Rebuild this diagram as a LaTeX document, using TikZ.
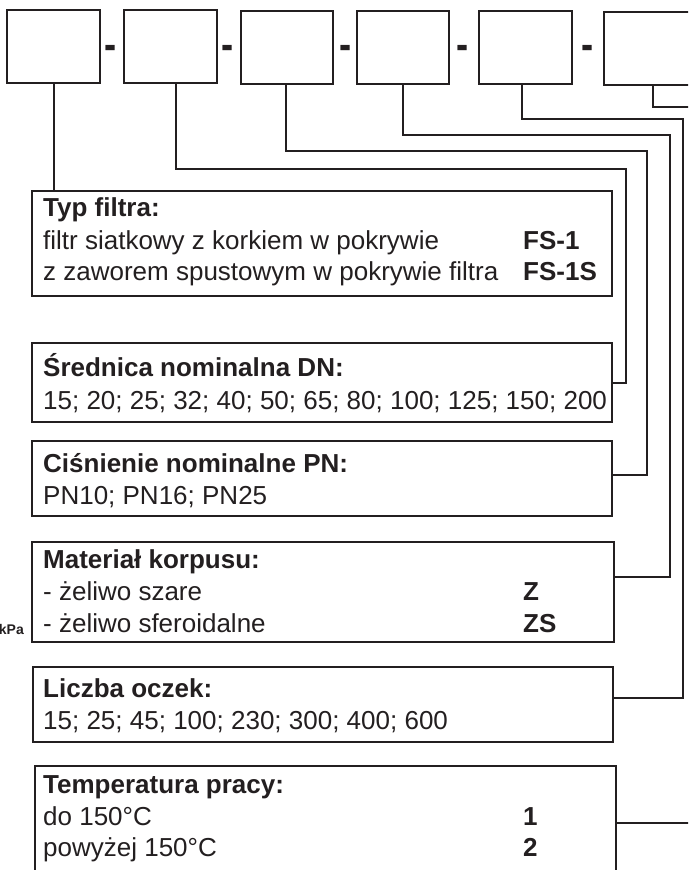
\documentclass[tikz,border=0pt]{standalone}
\usepackage{fontspec}
\setmainfont{Liberation Sans}
\definecolor{ink}{RGB}{35,31,32}
\begin{document}
\begin{tikzpicture}[x=1pt,y=-1pt,
  ln/.style={line width=2pt, draw=ink},
  codebox/.style={ln, rectangle, inner sep=0pt, minimum width=93pt, minimum height=73pt},
  infobox/.style={ln, rectangle, inner sep=0pt},
  txt/.style={anchor=base west, inner sep=0pt, text=ink, font=\fontsize{26}{32}\selectfont},
  hd/.style={txt, font=\fontsize{26}{32}\selectfont\bfseries},
  val/.style={txt, font=\fontsize{26}{32}\selectfont\bfseries},
  sep/.style={anchor=base, inner sep=0pt, text=ink, font=\fontsize{26}{32}\selectfont\bfseries},
  note/.style={anchor=base east, inner sep=0pt, text=ink, font=\fontsize{14}{16}\selectfont\bfseries}
]
\useasboundingbox (0,0) rectangle (688,870);
\clip (0,0) rectangle (688,870);
\fill[white] (0,0) rectangle (688,870);

% top code boxes
\node[codebox] (k1) at (53.5,46.5) {};
\node[codebox] (k2) at (170.5,46.5) {};
\node[codebox, minimum width=92pt] (k3) at (287,47) {};
\node[codebox, minimum width=92pt] (k4) at (403,47.5) {};
\node[codebox] (k5) at (525.5,47.5) {};
\node[codebox, minimum width=96pt] (k6) at (652,48.5) {};

% separators
\node[sep] (d1) at (111,59) {\scalebox{1.4}[1.7]{-}};
\node[sep] (d2) at (228,59) {\scalebox{1.4}[1.7]{-}};
\node[sep] (d3) at (346,59) {\scalebox{1.4}[1.7]{-}};
\node[sep] (d4) at (463,59) {\scalebox{1.4}[1.7]{-}};
\node[sep] (d5) at (588,59) {\scalebox{1.4}[1.7]{-}};

% information boxes
\node[infobox, minimum width=580pt, minimum height=105pt] (t1) at (322,243.5) {};
\node[infobox, minimum width=580pt, minimum height=79pt] (t2) at (322,382.5) {};
\node[infobox, minimum width=580pt, minimum height=75pt] (t3) at (322,478.5) {};
\node[infobox, minimum width=582pt, minimum height=100pt] (t4) at (323,592) {};
\node[infobox, minimum width=580pt, minimum height=75pt] (t5) at (323,704.5) {};
\node[infobox, minimum width=581pt, minimum height=134pt] (t6) at (325.5,833) {};

% texts
\node[hd] (h1) at (43,216) {Typ filtra:};
\node[txt] (a1) at (43,249) {filtr siatkowy z korkiem w pokrywie};
\node[val] (v1) at (523,249) {FS-1};
\node[txt] (b1) at (43,280) {z zaworem spustowym w pokrywie filtra};
\node[val] (w1) at (523,280) {FS-1S};

\node[hd] (h2) at (43,376) {Średnica nominalna DN:};
\node[txt] (a2) at (43,409) {15; 20; 25; 32; 40; 50; 65; 80; 100; 125; 150; 200};

\node[hd] (h3) at (43,472) {Ciśnienie nominalne PN:};
\node[txt] (a3) at (43,504) {PN10; PN16; PN25};

\node[hd] (h4) at (43,568) {Materiał korpusu:};
\node[txt] (a4) at (43,600) {- żeliwo szare};
\node[val] (v4) at (523,600) {Z};
\node[txt] (b4) at (43,632) {- żeliwo sferoidalne};
\node[val] (w4) at (523,632) {ZS};

\node[hd] (h5) at (43,697) {Liczba oczek:};
\node[txt] (a5) at (43,729) {15; 25; 45; 100; 230; 300; 400; 600};

\node[hd] (h6) at (43,793) {Temperatura pracy:};
\node[txt] (a6) at (43,825) {do 150°C};
\node[val] (v6) at (523,825) {1};
\node[txt] (b6) at (43,856) {powyżej 150°C};
\node[val] (w6) at (523,856) {2};

\node[note] (kpa) at (24,634) {kPa};

% connector coordinates
\coordinate (r2) at (626,169);
\coordinate (e2) at (626,383);
\coordinate (r3) at (647,151);
\coordinate (e3) at (647,475);
\coordinate (r4) at (670,135);
\coordinate (e4) at (670,577);
\coordinate (r5) at (683,119);
\coordinate (e5) at (683,698);
\coordinate (r6) at (700,107);
\coordinate (e6) at (700,823);

% connectors
\draw[ln] (k1.south) -- (k1.south |- t1.north);
\draw[ln] ([xshift=5.5pt]k2.south) |- (r2) -- (e2) -- (e2 -| t2.east);
\draw[ln] ([xshift=-1pt]k3.south) |- (r3) -- (e3) -- (e3 -| t3.east);
\draw[ln] (k4.south) |- (r4) -- (e4) -- (e4 -| t4.east);
\draw[ln] ([xshift=-3.5pt]k5.south) |- (r5) -- (e5) -- (e5 -| t5.east);
\draw[ln] ([xshift=1pt]k6.south) |- (r6);
\draw[ln] (e6 -| t6.east) -- (e6);
\end{tikzpicture}
\end{document}
